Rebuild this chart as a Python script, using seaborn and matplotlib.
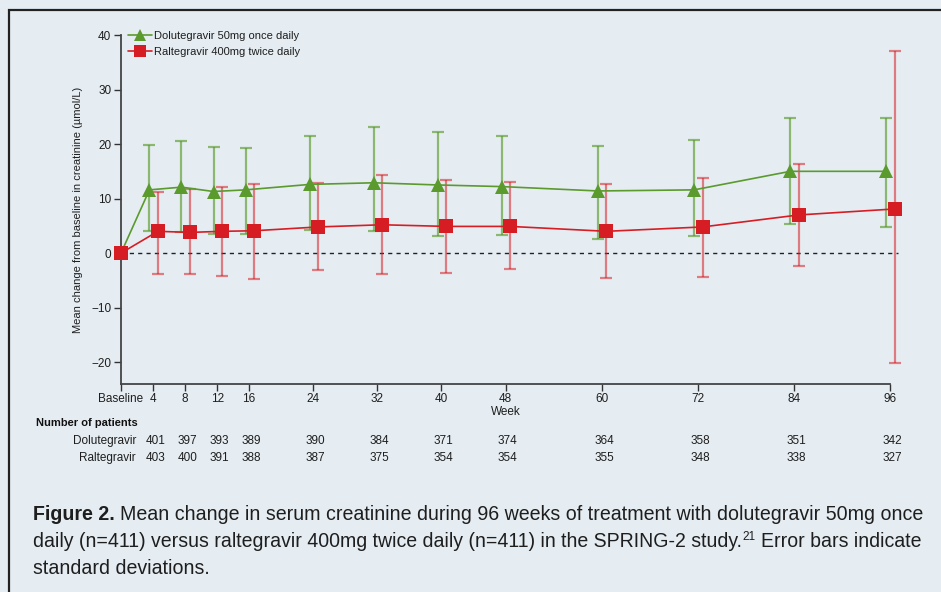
import matplotlib.pyplot as plt
import matplotlib.patches as mpatches
import numpy as np
import pandas as pd
import seaborn as sns

# values
weeks = [0, 4, 8, 12, 16, 24, 32, 40, 48, 60, 72, 84, 96]
week_labels = ["Baseline", "4", "8", "12", "16", "24", "32", "40", "48", "60", "72", "84", "96"]

dtg_mean = [0, 11.6, 12.1, 11.3, 11.6, 12.6, 12.9, 12.5, 12.2, 11.4, 11.6, 15.0, 15.0]
dtg_upper = [0, 19.8, 20.5, 19.5, 19.3, 21.4, 23.1, 22.2, 21.4, 19.7, 20.7, 24.8, 24.8]
dtg_lower = [0, 4.0, 3.9, 3.5, 3.5, 4.3, 4.1, 3.2, 3.3, 2.5, 3.2, 5.4, 4.8]

ral_mean = [0, 4.0, 3.8, 4.0, 4.1, 4.8, 5.2, 4.9, 4.9, 4.0, 4.8, 7.0, 8.1]
ral_upper = [0, 11.2, 11.8, 12.1, 12.7, 12.9, 14.3, 13.5, 13.0, 12.6, 13.7, 16.3, 37.0]
ral_lower = [0, -3.8, -3.8, -4.2, -4.7, -3.1, -3.8, -3.6, -3.0, -4.6, -4.4, -2.4, -20.1]

dtg_n = [401, 397, 393, 389, 390, 384, 371, 374, 364, 358, 351, 342]
ral_n = [403, 400, 391, 388, 387, 375, 354, 354, 355, 348, 338, 327]

dtg_name = "Dolutegravir 50mg once daily"
ral_name = "Raltegravir 400mg twice daily"

BG = "#e5edf3"
GREEN = "#5b9a2c"
RED = "#d71d24"
INK = "#1e1e1e"
W, H = 941, 592

sns.set_style("ticks")
plt.rcParams["font.family"] = ["Liberation Sans", "DejaVu Sans"]

fig = plt.figure(figsize=(W / 100, H / 100), dpi=100)
fig.patch.set_facecolor(BG)
# outer frame, right/bottom edges run off the page like in the scan
fig.add_artist(mpatches.Rectangle((9 / W, -0.05), 1.0, 1 - 10 / H + 0.05,
                                  transform=fig.transFigure, fill=False,
                                  edgecolor="#222222", lw=1.6))

ax = fig.add_axes([121 / W, 1 - 384 / H, 769 / W, 349 / H])
ax.set_facecolor(BG)

# small horizontal offsets so the two series don't overlap
def shift(ws, d):
    return [w if w == 0 else w + d for w in ws]

dtg_x = shift(weeks, -0.45)
ral_x = shift(weeks, 0.6)

df = pd.DataFrame({
    "x": dtg_x + ral_x,
    "y": dtg_mean + ral_mean,
    "arm": [dtg_name] * len(weeks) + [ral_name] * len(weeks),
})

# error bars (standard deviations), skip baseline
dl = np.array(dtg_mean[1:]) - np.array(dtg_lower[1:])
du = np.array(dtg_upper[1:]) - np.array(dtg_mean[1:])
ax.errorbar(dtg_x[1:], dtg_mean[1:], yerr=[dl, du], fmt="none", ecolor=GREEN,
            alpha=0.65, elinewidth=1.6, capsize=4, capthick=1.6, clip_on=False, zorder=2)
rl = np.array(ral_mean[1:]) - np.array(ral_lower[1:])
ru = np.array(ral_upper[1:]) - np.array(ral_mean[1:])
ax.errorbar(ral_x[1:], ral_mean[1:], yerr=[rl, ru], fmt="none", ecolor=RED,
            alpha=0.55, elinewidth=1.6, capsize=4, capthick=1.6, clip_on=False, zorder=3)

sns.lineplot(data=df, x="x", y="y", hue="arm", style="arm",
             palette={dtg_name: GREEN, ral_name: RED},
             markers={dtg_name: "^", ral_name: "s"}, dashes=False,
             markersize=10, markeredgewidth=0, linewidth=1.2,
             ax=ax, zorder=4)
for ln in ax.lines:
    ln.set_clip_on(False)

ax.axhline(0, xmin=0, xmax=1.01, color="#222222", ls=(0, (3, 3)), lw=1.0,
           clip_on=False, zorder=1)

ax.set_xlim(0, 96)
ax.set_ylim(-24, 40)
ax.set_xticks(weeks)
ax.set_xticklabels(week_labels)
ax.set_yticks([-20, -10, 0, 10, 20, 30, 40])
ax.set_yticklabels(["\u221220", "\u221210", "0", "10", "20", "30", "40"])
ax.tick_params(axis="both", labelsize=8.5, length=5, width=1, color="#333333",
               labelcolor=INK)
ax.tick_params(axis="x", pad=1.5)
ax.tick_params(axis="y", pad=2)
for s in ["top", "right"]:
    ax.spines[s].set_visible(False)
for s in ["left", "bottom"]:
    ax.spines[s].set_color("#444444")
    ax.spines[s].set_linewidth(1.3)

ax.set_xlabel("Week", fontsize=8.5, labelpad=1, color=INK)
ax.set_ylabel("Mean change from baseline in creatinine (\u00b5mol/L)", fontsize=8,
              labelpad=6, color=INK)

leg = ax.legend(loc="upper left", bbox_to_anchor=(0.0, 1.03), frameon=False,
                fontsize=8, handlelength=2.2, handletextpad=0.2, markerscale=0.8,
                labelspacing=0.5, borderaxespad=0.2)
for t in leg.get_texts():
    t.set_color(INK)

# number of patients table
fig.text(36 / W, 1 - 423 / H, "Number of patients", fontsize=8,
         fontweight="bold", ha="left", va="center", color="#111111")
fig.text(136 / W, 1 - 441 / H, "Dolutegravir", fontsize=8.5,
         ha="right", va="center", color=INK)
fig.text(136 / W, 1 - 458 / H, "Raltegravir", fontsize=8.5,
         ha="right", va="center", color=INK)
tr = ax.get_xaxis_transform()
for w, n1, n2 in zip(weeks[1:], dtg_n, ral_n):
    ax.text(w + 0.3, -(441 - 384) / 349, str(n1), transform=tr, fontsize=8.5,
            ha="center", va="center", color=INK)
    ax.text(w + 0.3, -(458 - 384) / 349, str(n2), transform=tr, fontsize=8.5,
            ha="center", va="center", color=INK)

# caption, laid out piece by piece and stretched to the column width
renderer = fig.canvas.get_renderer()


def text_run(pieces, x_px, base_px, size, width_px=None):
    def build(sz):
        arts = []
        x = x_px
        for s, wt, rel, rise, gap in pieces:
            x += gap * sz * rel * 100 / 72
            t = fig.text(x / W, 1 - (base_px - rise) / H, s, fontsize=sz * rel,
                         fontweight=wt, ha="left", va="baseline", color=INK)
            x += t.get_window_extent(renderer).width
            arts.append(t)
        return arts, x - x_px

    arts, total = build(size)
    if width_px is not None:
        for a in arts:
            a.remove()
        size = size * width_px / total
        arts, total = build(size)
    return size


cap_size = text_run([("Figure 2.", "bold", 1, 0, 0),
                     ("Mean change in serum creatinine during 96 weeks of treatment with dolutegravir 50mg once",
                      "normal", 1, 0, 0.28)],
                    33, 520, 13.5, width_px=889)
text_run([("daily (n=411) versus raltegravir 400mg twice daily (n=411) in the SPRING-2 study.",
           "normal", 1, 0, 0),
          ("21", "normal", 0.6, 7, 0.05),
          ("Error bars indicate", "normal", 1, 0, 0.25)],
         33, 547, cap_size, width_px=889)
text_run([("standard deviations.", "normal", 1, 0, 0)], 33, 574, cap_size)

fig.savefig("out.png", dpi=100, facecolor=BG)
